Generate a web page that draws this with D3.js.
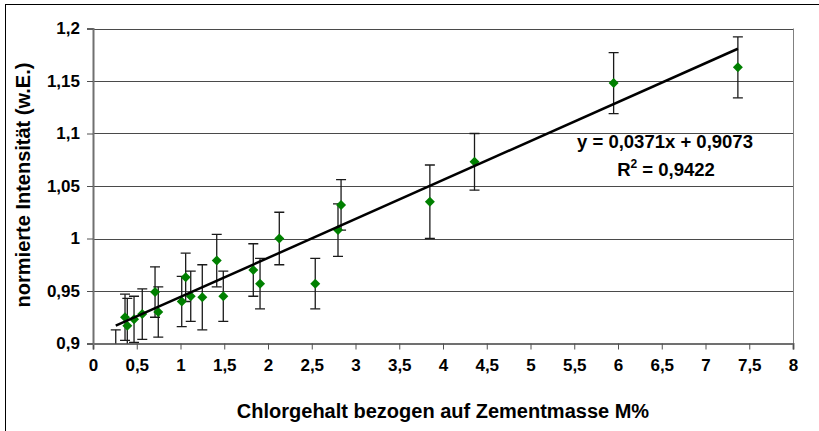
<!DOCTYPE html>
<html>
<head>
<meta charset="utf-8">
<script src="https://cdn.jsdelivr.net/npm/d3@7/dist/d3.min.js"></script>
<style>
  html, body { margin: 0; padding: 0; background: #fff; }
  svg { display: block; }
  text { font-family: "Liberation Sans", Arial, sans-serif; font-weight: bold; fill: #000; }
</style>
</head>
<body>
<svg id="chart" width="819" height="431"></svg>
<script>
// Chloride content (M% of cement mass) and normalised intensity with symmetric error
const chlorid = [0.260, 0.366, 0.392, 0.469, 0.563, 0.709, 0.746, 1.014, 1.059, 1.117, 1.249, 1.414,
                 1.489, 1.832, 1.909, 2.129, 2.540, 2.800, 2.835, 3.850, 4.360, 5.950, 7.370];
const intensitaet = [0.890, 0.925, 0.917, 0.923, 0.928, 0.949, 0.930, 0.940, 0.963, 0.945, 0.944, 0.979,
                     0.945, 0.970, 0.957, 1.000, 0.957, 1.008, 1.032, 1.035, 1.073, 1.148, 1.163];
const fehler = [0.023, 0.022, 0.026, 0.022, 0.024, 0.024, 0.024, 0.024, 0.023, 0.024, 0.031, 0.025,
                0.024, 0.025, 0.024, 0.025, 0.024, 0.025, 0.024, 0.035, 0.027, 0.029, 0.029];

// Linear trend line parameters
const steigung = 0.0371;
const achsenabschnitt = 0.9073;
const bestimmtheit = 0.9422;

// Axis ticks
const xTicks = [0, 0.5, 1, 1.5, 2, 2.5, 3, 3.5, 4, 4.5, 5, 5.5, 6, 6.5, 7, 7.5, 8];
const yTicks = [0.9, 0.95, 1, 1.05, 1.1, 1.15, 1.2];

const xTitle = "Chlorgehalt bezogen auf Zementmasse M%";
const yTitle = "normierte Intensität (w.E.)";

const fmt = v => String(v).replace(".", ",");

const svg = d3.select("#chart");
const plot = { left: 93, right: 793, top: 28.5, bottom: 343.5 };

const x = d3.scaleLinear().domain([0, 8]).range([plot.left, plot.right]);
const y = d3.scaleLinear().domain([0.9, 1.2]).range([plot.bottom, plot.top]);

// Outer chart frame
svg.append("rect")
  .attr("x", 5.5).attr("y", 4.5)
  .attr("width", 830).attr("height", 440)
  .attr("fill", "none").attr("stroke", "#000").attr("stroke-width", 1);

// Horizontal gridlines
svg.append("g")
  .selectAll("line")
  .data(yTicks.slice(1))
  .join("line")
  .attr("x1", plot.left).attr("x2", plot.right)
  .attr("y1", d => Math.round(y(d)) + 0.5).attr("y2", d => Math.round(y(d)) + 0.5)
  .attr("stroke", "#4a4a4a").attr("stroke-width", 1);

// Right border of the plot area
svg.append("line")
  .attr("x1", plot.right + 0.5).attr("x2", plot.right + 0.5)
  .attr("y1", plot.top).attr("y2", plot.bottom)
  .attr("stroke", "#808080").attr("stroke-width", 1);

// Axes
const xAxis = d3.axisBottom(x).tickValues(xTicks).tickSize(6).tickPadding(9).tickFormat(fmt);
const yAxis = d3.axisLeft(y).tickValues(yTicks).tickSize(6).tickPadding(7).tickFormat(fmt);

const gx = svg.append("g").attr("transform", `translate(0,${plot.bottom})`).call(xAxis);
const gy = svg.append("g").attr("transform", `translate(${plot.left},0)`).call(yAxis);

[gx, gy].forEach(g => {
  g.select(".domain").attr("stroke", "#707070").attr("stroke-width", 2);
  g.selectAll(".tick line").attr("stroke", "#505050").attr("stroke-width", 1);
  g.selectAll(".tick text").attr("font-size", 17).attr("font-family", "Liberation Sans, Arial, sans-serif")
    .attr("font-weight", "bold").attr("fill", "#000");
});

// Clip error bars and markers to the plot area
svg.append("clipPath").attr("id", "plotclip")
  .append("rect")
  .attr("x", plot.left).attr("y", plot.top)
  .attr("width", plot.right - plot.left + 6).attr("height", plot.bottom - plot.top);

const pts = chlorid.map((c, i) => ({ c, v: intensitaet[i], e: fehler[i] }));

const marks = svg.append("g").attr("clip-path", "url(#plotclip)");

// Error bars
const eb = marks.append("g").attr("stroke", "#1a1a1a").attr("stroke-width", 1.3);
eb.selectAll(".stem").data(pts).join("line")
  .attr("x1", d => x(d.c)).attr("x2", d => x(d.c))
  .attr("y1", d => y(d.v - d.e)).attr("y2", d => y(d.v + d.e));
eb.selectAll(".capTop").data(pts).join("line")
  .attr("x1", d => x(d.c) - 5).attr("x2", d => x(d.c) + 5)
  .attr("y1", d => y(d.v + d.e)).attr("y2", d => y(d.v + d.e));
eb.selectAll(".capBot").data(pts).join("line")
  .attr("x1", d => x(d.c) - 5).attr("x2", d => x(d.c) + 5)
  .attr("y1", d => y(d.v - d.e)).attr("y2", d => y(d.v - d.e));

// Trend line over the measured range
const xr = d3.extent(chlorid);
svg.append("line")
  .attr("x1", x(xr[0])).attr("y1", y(achsenabschnitt + steigung * xr[0]))
  .attr("x2", x(xr[1])).attr("y2", y(achsenabschnitt + steigung * xr[1]))
  .attr("stroke", "#000").attr("stroke-width", 2.5);

// Diamond markers
marks.append("g").selectAll("path").data(pts).join("path")
  .attr("d", d => {
    const cx = x(d.c), cy = y(d.v), r = 5;
    return `M${cx},${cy - r}L${cx + r},${cy}L${cx},${cy + r}L${cx - r},${cy}Z`;
  })
  .attr("fill", "#008000");

// Regression equation
svg.append("text")
  .attr("x", 665).attr("y", 148)
  .attr("text-anchor", "middle").attr("font-size", 18.5)
  .text(`y = ${fmt(steigung)}x + ${fmt(achsenabschnitt)}`);

const r2 = svg.append("text")
  .attr("x", 666).attr("y", 176)
  .attr("text-anchor", "middle").attr("font-size", 18.5);
r2.append("tspan").text("R");
r2.append("tspan").attr("dy", -8).attr("font-size", 12).text("2");
r2.append("tspan").attr("dy", 8).text(` = ${fmt(bestimmtheit)}`);

// Axis titles
svg.append("text")
  .attr("x", 443).attr("y", 418)
  .attr("text-anchor", "middle").attr("font-size", 20)
  .text(xTitle);

svg.append("text")
  .attr("transform", `translate(30,185) rotate(-90)`)
  .attr("text-anchor", "middle").attr("font-size", 20)
  .text(yTitle);
</script>
</body>
</html>
